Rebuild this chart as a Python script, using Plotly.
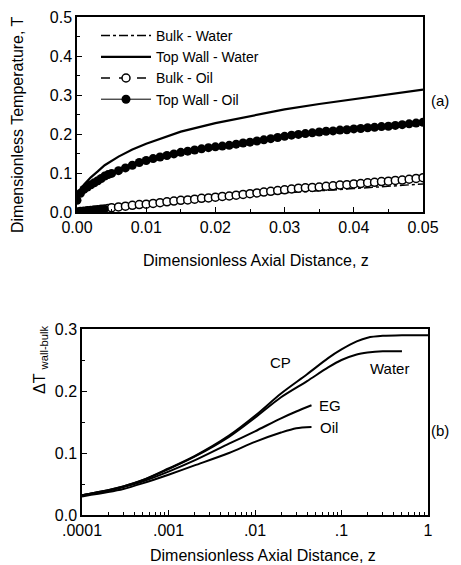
import plotly.graph_objects as go

# ---------------- Panel (a) data ----------------
z_bulk_water = [0, 0.005, 0.01, 0.02, 0.03, 0.04, 0.05]
T_bulk_water = [0.0, 0.009, 0.018, 0.034, 0.049, 0.060, 0.072]

z_wall_water = [0, 0.0005, 0.001, 0.002, 0.003, 0.004, 0.006, 0.008, 0.01, 0.0125,
                0.015, 0.02, 0.025, 0.03, 0.035, 0.04, 0.045, 0.05]
T_wall_water = [0.03, 0.058, 0.07, 0.089, 0.104, 0.12, 0.142, 0.16, 0.175, 0.19,
                0.206, 0.228, 0.245, 0.263, 0.277, 0.289, 0.301, 0.314]

z_oil = [0, 0.0005, 0.001, 0.0015, 0.002, 0.0025, 0.003, 0.0035, 0.004, 0.0045,
         0.005, 0.006, 0.007, 0.008, 0.009, 0.010, 0.011, 0.012, 0.013, 0.014,
         0.015, 0.016, 0.017, 0.018, 0.019, 0.020, 0.021, 0.022, 0.023, 0.024,
         0.025, 0.026, 0.027, 0.028, 0.029, 0.030, 0.031, 0.032, 0.033, 0.034,
         0.035, 0.036, 0.037, 0.038, 0.039, 0.040, 0.041, 0.042, 0.043, 0.044,
         0.045, 0.046, 0.047, 0.048, 0.049, 0.050]
T_bulk_oil = [0.0, 0.001, 0.002, 0.003, 0.004, 0.005, 0.006, 0.007, 0.008, 0.009,
              0.011, 0.013, 0.015, 0.017, 0.019, 0.020, 0.022, 0.024, 0.026, 0.028,
              0.030, 0.031, 0.033, 0.035, 0.036, 0.038, 0.040, 0.041, 0.043, 0.045,
              0.047, 0.049, 0.051, 0.053, 0.055, 0.057, 0.059, 0.061, 0.062, 0.063,
              0.064, 0.066, 0.067, 0.069, 0.070, 0.072, 0.073, 0.075, 0.076, 0.078,
              0.079, 0.081, 0.082, 0.084, 0.086, 0.088]
T_wall_oil = [0.03, 0.048, 0.058, 0.064, 0.07, 0.075, 0.08, 0.086, 0.092, 0.096,
              0.099, 0.106, 0.113, 0.12, 0.127, 0.132, 0.137, 0.141, 0.145, 0.149,
              0.153, 0.156, 0.159, 0.162, 0.165, 0.167, 0.169, 0.171, 0.174, 0.177,
              0.179, 0.182, 0.185, 0.188, 0.191, 0.194, 0.197, 0.199, 0.201, 0.203,
              0.205, 0.207, 0.208, 0.210, 0.211, 0.213, 0.214, 0.216, 0.217, 0.219,
              0.220, 0.222, 0.224, 0.226, 0.228, 0.230]

# ---------------- Panel (b) data ----------------
z_cp = [1e-4, 2e-4, 3e-4, 5e-4, 1e-3, 2e-3, 5e-3, 1e-2, 2e-2, 4e-2, 0.07, 0.1, 0.15, 0.2,
        0.3, 0.5, 1.0]
dT_cp = [0.032, 0.040, 0.046, 0.056, 0.075, 0.095, 0.128, 0.160, 0.196, 0.227, 0.253, 0.267,
         0.280, 0.286, 0.289, 0.290, 0.290]

z_water = [1e-4, 2e-4, 3e-4, 5e-4, 1e-3, 2e-3, 5e-3, 1e-2, 2e-2, 4e-2, 0.07, 0.1, 0.15, 0.2,
           0.3, 0.5]
dT_water = [0.032, 0.040, 0.046, 0.056, 0.074, 0.094, 0.126, 0.157, 0.190, 0.216, 0.238, 0.250,
            0.259, 0.262, 0.264, 0.264]

z_eg = [1e-4, 2e-4, 3e-4, 5e-4, 1e-3, 2e-3, 5e-3, 1e-2, 2e-2, 3e-2, 0.045]
dT_eg = [0.032, 0.039, 0.045, 0.054, 0.070, 0.088, 0.115, 0.135, 0.156, 0.167, 0.177]

z_oilb = [1e-4, 2e-4, 3e-4, 5e-4, 1e-3, 2e-3, 5e-3, 1e-2, 2e-2, 3e-2, 0.045]
dT_oilb = [0.030, 0.037, 0.042, 0.051, 0.065, 0.080, 0.100, 0.118, 0.133, 0.140, 0.142]

log_ticks = [1e-4, 1e-3, 1e-2, 1e-1, 1]
log_ticktext = [".0001", ".001", ".01", ".1", "1"]
log_minor = [m * 10.0 ** e for e in range(-4, 0) for m in range(2, 10)]

FONT = "Liberation Sans, Arial, sans-serif"
OFF = 8                      # page body margin of the browser
W, H = 461 - OFF, 565 - OFF

def px_x(p):
    return (p - OFF) / W

def px_y(p):
    return 1 - (p - OFF) / H

fig = go.Figure()

fig.add_trace(go.Scatter(x=z_bulk_water, y=T_bulk_water, mode="lines", name="Bulk - Water",
                         line=dict(color="black", width=1.5, dash="dashdot"), xaxis="x", yaxis="y"))
fig.add_trace(go.Scatter(x=z_wall_water, y=T_wall_water, mode="lines", name="Top Wall - Water",
                         line=dict(color="black", width=2.2), xaxis="x", yaxis="y"))
fig.add_trace(go.Scatter(x=z_oil, y=T_bulk_oil, mode="lines+markers", name="Bulk - Oil",
                         line=dict(color="black", width=1.5, dash="dash"),
                         marker=dict(symbol="circle", size=8, color="white",
                                     line=dict(color="black", width=1.5)),
                         xaxis="x", yaxis="y"))
# densely packed start of the bulk-oil series appears solid black in the original
n_dense = sum(1 for z in z_oil if z < 0.0045)
fig.add_trace(go.Scatter(x=z_oil[:n_dense], y=T_bulk_oil[:n_dense], mode="markers",
                         showlegend=False,
                         marker=dict(symbol="circle", size=8, color="black"),
                         xaxis="x", yaxis="y"))
fig.add_trace(go.Scatter(x=z_oil, y=T_wall_oil, mode="lines+markers", name="Top Wall - Oil",
                         line=dict(color="black", width=1),
                         marker=dict(symbol="circle", size=9, color="black"),
                         xaxis="x", yaxis="y"))

for zz, dd in [(z_cp, dT_cp), (z_water, dT_water), (z_eg, dT_eg), (z_oilb, dT_oilb)]:
    fig.add_trace(go.Scatter(x=zz, y=dd, mode="lines", showlegend=False,
                             line=dict(color="black", width=2, shape="spline", smoothing=0.8),
                             xaxis="x2", yaxis="y2"))

axis_common = dict(showline=True, linecolor="black", linewidth=1.5, mirror=True,
                   ticks="inside", ticklen=5, tickcolor="black", showgrid=False,
                   zeroline=False, automargin=False,
                   tickfont=dict(size=16, color="black", family=FONT))

fig.update_layout(
    width=W, height=H,
    margin=dict(l=0, r=0, t=0, b=0),
    paper_bgcolor="white", plot_bgcolor="white",
    font=dict(family=FONT, color="black"),
    xaxis=dict(domain=[px_x(77), px_x(423)], range=[0, 0.05], dtick=0.01, tickformat=".2f",
               minor=dict(ticks="inside", ticklen=3, dtick=0.005, tickcolor="black"),
               anchor="y", **axis_common),
    yaxis=dict(domain=[px_y(212), px_y(17)], range=[0, 0.5], dtick=0.1, tickformat=".1f",
               minor=dict(ticks="inside", ticklen=3, dtick=0.05, tickcolor="black"),
               anchor="x", **axis_common),
    xaxis2=dict(domain=[px_x(82), px_x(428)], type="log", range=[-4, 0],
                tickmode="array", tickvals=log_ticks, ticktext=log_ticktext,
                minor=dict(ticks="inside", ticklen=3, tickcolor="black",
                           tickmode="array", tickvals=log_minor),
                anchor="y2", **axis_common),
    yaxis2=dict(domain=[px_y(515), px_y(329)], range=[0, 0.3], dtick=0.1, tickformat=".1f",
                minor=dict(ticks="inside", ticklen=3, dtick=0.05, tickcolor="black"),
                anchor="x2", **axis_common),
    legend=dict(x=px_x(96), y=px_y(20), xanchor="left", yanchor="top",
                bgcolor="rgba(0,0,0,0)", itemwidth=50, tracegroupgap=0,
                font=dict(size=14, color="black", family=FONT)),
)

def pa(x, y, text, size=16, angle=0):
    return dict(x=px_x(x), y=px_y(y), xref="paper", yref="paper", text=text,
                xanchor="center", yanchor="middle", textangle=angle,
                showarrow=False, font=dict(size=size, color="black", family=FONT))

def da(x, y, text):
    return dict(x=x, y=y, xref="x2", yref="y2", text=text, xanchor="center", yanchor="middle",
                showarrow=False, font=dict(size=15, color="black", family=FONT))

ann = [
    pa(18, 125, "Dimensionless Temperature, T", 16, -90),
    pa(256, 260, "Dimensionless Axial Distance, z", 16),
    pa(263, 555, "Dimensionless Axial Distance, z", 16),
    pa(40, 360, "ΔT <sub>wall-bulk</sub>", 16, -90),
    pa(440, 100, "(a)", 15),
    pa(440, 430, "(b)", 15),
    da(-1.71, 0.246, "CP"),
    da(-0.44, 0.236, "Water"),
    da(-1.13, 0.177, "EG"),
    da(-1.15, 0.141, "Oil"),
]
fig.update_layout(annotations=ann)

fig.write_html("out.html")
